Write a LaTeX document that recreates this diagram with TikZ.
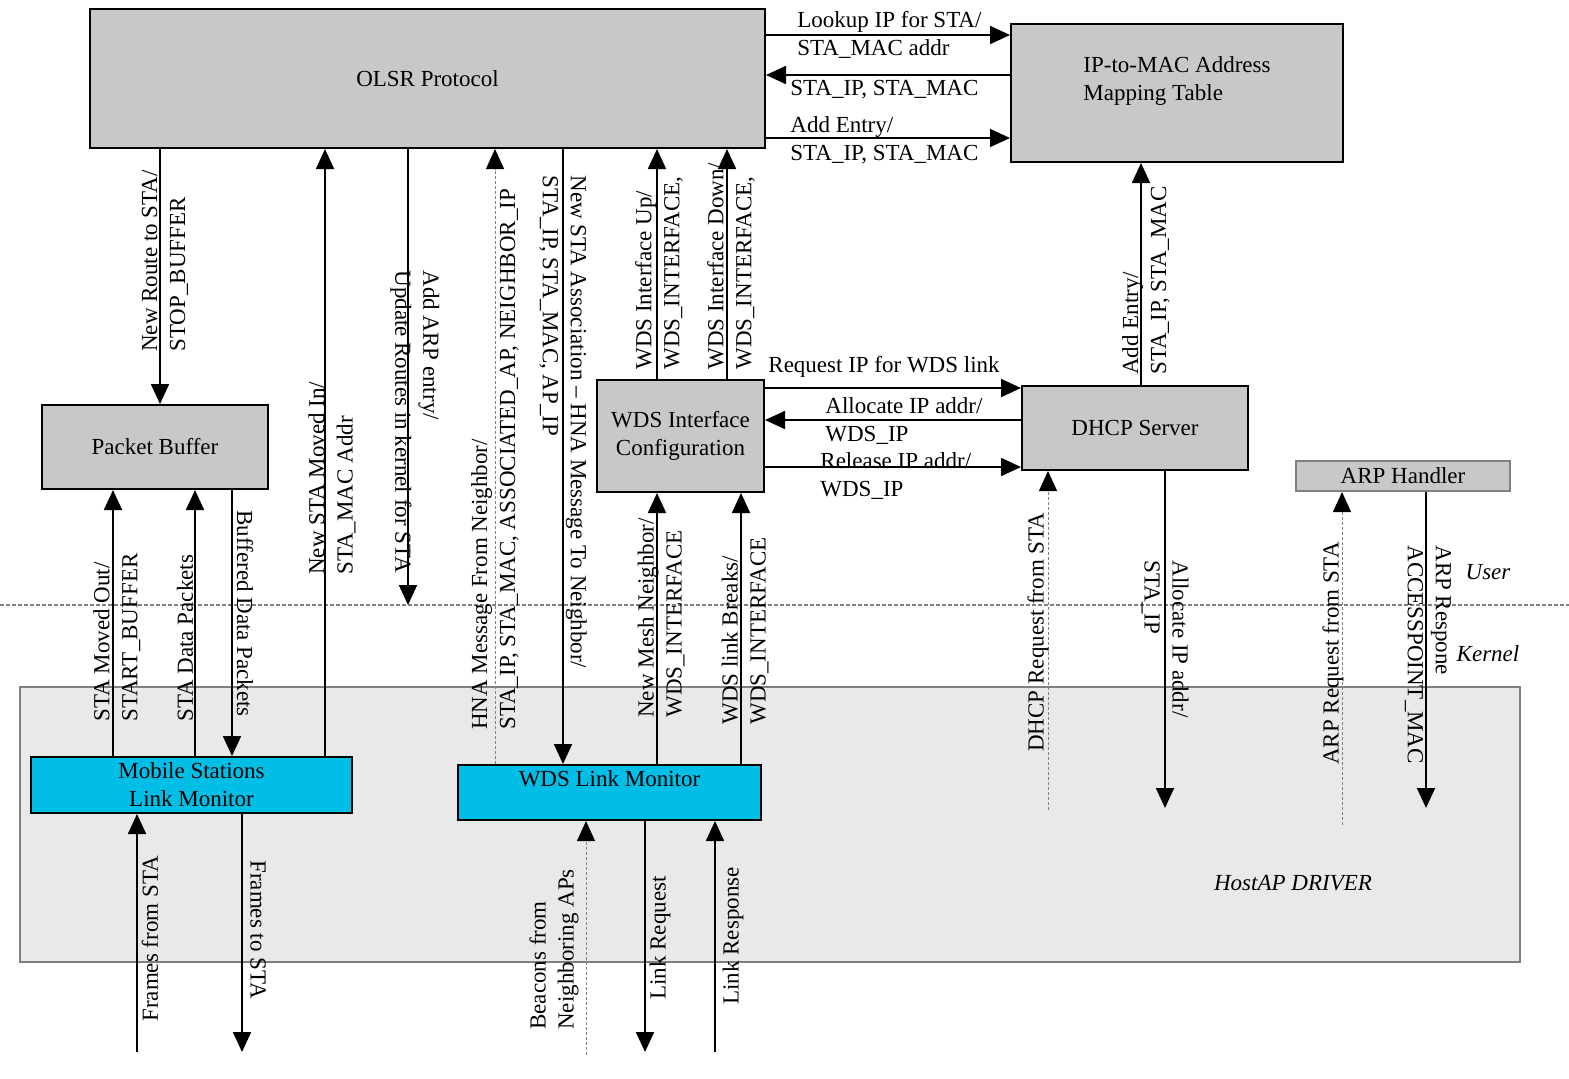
\documentclass[tikz,border=0pt]{standalone}
\usepackage{fontspec}
\setmainfont{Liberation Serif}
\usetikzlibrary{arrows.meta, positioning}

\definecolor{boxgray}{RGB}{200,200,200}
\definecolor{drvgray}{RGB}{233,233,233}
\definecolor{moncyan}{RGB}{0,190,230}

\begin{document}
\begin{tikzpicture}[
    x=0.5pt, y=-0.5pt,
    font=\fontsize{11.5}{14}\selectfont,
    box/.style={rectangle, draw=black, line width=1pt, fill=boxgray, inner sep=0pt, align=center},
    monitor/.style={box, fill=moncyan},
    uplab/.style={rotate=90, anchor=west, inner sep=0pt, align=left},
    downlab/.style={rotate=-90, anchor=west, inner sep=0pt, align=left},
    sidelab/.style={anchor=west, inner sep=0pt, align=left},
    italic/.style={font=\fontsize{11.5}{14}\selectfont\itshape},
    flow/.style={line width=0.9pt, -{Triangle[length=10pt, width=9pt]}},
    hint/.style={draw=gray, line width=0.5pt, dash pattern=on 1.5pt off 1pt, -{Triangle[length=10pt, width=9pt, black]}}
]
    \useasboundingbox[fill=white] (0,0) rectangle (1569,1078);

    % Kernel / driver area
    \node[draw=gray, line width=0.8pt, fill=drvgray, minimum width=750pt, minimum height=137.5pt, inner sep=0pt] (hostap) at (770,824.5) {};
    \draw[gray, line width=0.6pt, dash pattern=on 2pt off 1pt] (0,605) -- (1569,605);
    \node[italic] (luser) at (1488,572) {User};
    \node[italic] (lkernel) at (1488,654) {Kernel};
    \node[italic] (ldriver) at (1293,883) {HostAP DRIVER};

    % Components
    \node[box, minimum width=337.5pt, minimum height=69.5pt] (olsr) at (427.5,78.5) {OLSR Protocol};
    \node[box, align=left, minimum width=166pt, minimum height=69pt] (ipmac) at (1177,93) {IP-to-MAC Address\\Mapping Table\\\mbox{}};
    \node[box, minimum width=113pt, minimum height=42pt] (pbuf) at (155,447) {Packet Buffer};
    \node[box, minimum width=83.5pt, minimum height=56pt] (wdsic) at (680.5,436) {WDS Interface\\Configuration};
    \node[box, minimum width=113pt, minimum height=42pt] (dhcp) at (1135,428) {DHCP Server};
    \node[box, draw=gray, minimum width=107pt, minimum height=15pt] (arp) at (1403,476) {ARP Handler};
    \node[monitor, minimum width=160.5pt, minimum height=28pt] (mslm) at (191.5,785) {Mobile Stations\\Link Monitor};
    \node[monitor, minimum width=151.5pt, minimum height=27.5pt] (wdslm) at (609.5,792.5) {WDS Link Monitor\\\mbox{}};

    % Free ends
    \coordinate (arpdrop) at (408,605);
    \coordinate (dhcpin) at (1048,810);
    \coordinate (dhcpout) at (1165,808);
    \coordinate (arpin) at (1342,825);
    \coordinate (arpout) at (1426,808);
    \coordinate (stain) at (137,1052);
    \coordinate (staout) at (242,1052);
    \coordinate (beacon) at (586,1055);
    \coordinate (linkreq) at (645,1052);
    \coordinate (linkresp) at (715,1052);

    % OLSR <-> mapping table
    \draw[flow] (olsr.east |- 0,35) -- (ipmac.west |- 0,35);
    \draw[flow] (ipmac.west |- 0,75) -- (olsr.east |- 0,75);
    \draw[flow] (olsr.east |- 0,138) -- (ipmac.west |- 0,138);

    % OLSR <-> lower boxes
    \draw[flow] (160,0 |- olsr.south) -- (160,0 |- pbuf.north);
    \draw[flow] (325,0 |- mslm.north) -- (325,0 |- olsr.south);
    \draw[flow] (408,0 |- olsr.south) -- (arpdrop);
    \draw[hint] (495,0 |- wdslm.north) -- (495,0 |- olsr.south);
    \draw[flow] (563,0 |- olsr.south) -- (563,0 |- wdslm.north);
    \draw[flow] (657,0 |- wdsic.north) -- (657,0 |- olsr.south);
    \draw[flow] (727,0 |- wdsic.north) -- (727,0 |- olsr.south);
    \draw[flow] (1141,0 |- dhcp.north) -- (1141,0 |- ipmac.south);

    % Packet buffer <-> station monitor
    \draw[flow] (113,0 |- mslm.north) -- (113,0 |- pbuf.south);
    \draw[flow] (195,0 |- mslm.north) -- (195,0 |- pbuf.south);
    \draw[flow] (232,0 |- pbuf.south) -- (232,0 |- mslm.north);

    % WDS monitor -> WDS configuration
    \draw[flow] (657,0 |- wdslm.north) -- (657,0 |- wdsic.south);
    \draw[flow] (741,0 |- wdslm.north) -- (741,0 |- wdsic.south);

    % WDS configuration <-> DHCP
    \draw[flow] (wdsic.east |- 0,388) -- (dhcp.west |- 0,388);
    \draw[flow] (dhcp.west |- 0,420) -- (wdsic.east |- 0,420);
    \draw[flow] (wdsic.east |- 0,467) -- (dhcp.west |- 0,467);

    % DHCP and ARP from the kernel
    \draw[hint] (dhcpin) -- (dhcpin |- dhcp.south);
    \draw[flow] (dhcpout |- dhcp.south) -- (dhcpout);
    \draw[hint] (arpin) -- (arpin |- arp.south);
    \draw[flow] (arpout |- arp.south) -- (arpout);

    % Air side
    \draw[flow] (stain) -- (stain |- mslm.south);
    \draw[flow] (staout |- mslm.south) -- (staout);
    \draw[hint] (beacon) -- (beacon |- wdslm.south);
    \draw[flow] (linkreq |- wdslm.south) -- (linkreq);
    \draw[flow] (linkresp) -- (linkresp |- wdslm.south);

    % Labels
    \node[sidelab] (llookup) at (797,35) {Lookup IP for STA/\\STA\_MAC addr};
    \node[sidelab] (lreply) at (790,90) {STA\_IP, STA\_MAC};
    \node[sidelab] (laddentry) at (790,140) {Add Entry/\\STA\_IP, STA\_MAC};
    \node[sidelab] (lreqip) at (768,367) {Request IP for WDS link};
    \node[sidelab] (lallocwds) at (825,421) {Allocate IP addr/\\WDS\_IP};
    \node[sidelab] (lrelease) at (820,476) {Release IP addr/\\WDS\_IP};

    \node[uplab] (lnewroute) at (165,352) {New Route to STA/\\STOP\_BUFFER};
    \node[uplab] (lmovedin) at (332,575) {New STA Moved In/\\STA\_MAC Addr};
    \node[downlab] (laddarp) at (415,270) {Add ARP entry/\\Update Routes in kernel for STA};
    \node[uplab] (lhnafrom) at (495,730) {HNA Message From Neighbor/\\STA\_IP, STA\_MAC, ASSOCIATED\_AP, NEIGHBOR\_IP};
    \node[downlab] (lhnato) at (563,175) {New STA Association -- HNA Message To Neighbor/\\STA\_IP, STA\_MAC, AP\_IP};
    \node[uplab] (lifup) at (659,370) {WDS Interface Up/\\WDS\_INTERFACE,};
    \node[uplab] (lifdown) at (731,370) {WDS Interface Down/\\WDS\_INTERFACE,};
    \node[uplab] (laddentry2) at (1146,375) {Add Entry/\\STA\_IP, STA\_MAC};
    \node[uplab] (lmovedout) at (117,722) {STA Moved Out/\\START\_BUFFER};
    \node[uplab] (ldata) at (185,722) {STA Data Packets};
    \node[downlab] (lbuffered) at (245,510) {Buffered Data Packets};
    \node[uplab] (lmesh) at (661,718) {New Mesh Neighbor/\\WDS\_INTERFACE};
    \node[uplab] (lbreak) at (745,725) {WDS link Breaks/\\WDS\_INTERFACE};
    \node[uplab] (ldhcpreq) at (1038,752) {DHCP Request from STA};
    \node[downlab] (lalloc) at (1165,560) {Allocate IP addr/\\STA\_IP};
    \node[uplab] (larpreq) at (1333,765) {ARP Request from STA};
    \node[downlab] (larpresp) at (1428,545) {ARP Respone\\ACCESSPOINT\_MAC};
    \node[uplab] (lfrom) at (150,1022) {Frames from STA};
    \node[downlab] (lto) at (258,860) {Frames to STA};
    \node[uplab] (lbeacon) at (554,1030) {Beacons from\\Neighboring APs};
    \node[uplab] (llinkreq) at (660,1000) {Link Request};
    \node[uplab] (llinkresp) at (733,1005) {Link Response};
\end{tikzpicture}
\end{document}
